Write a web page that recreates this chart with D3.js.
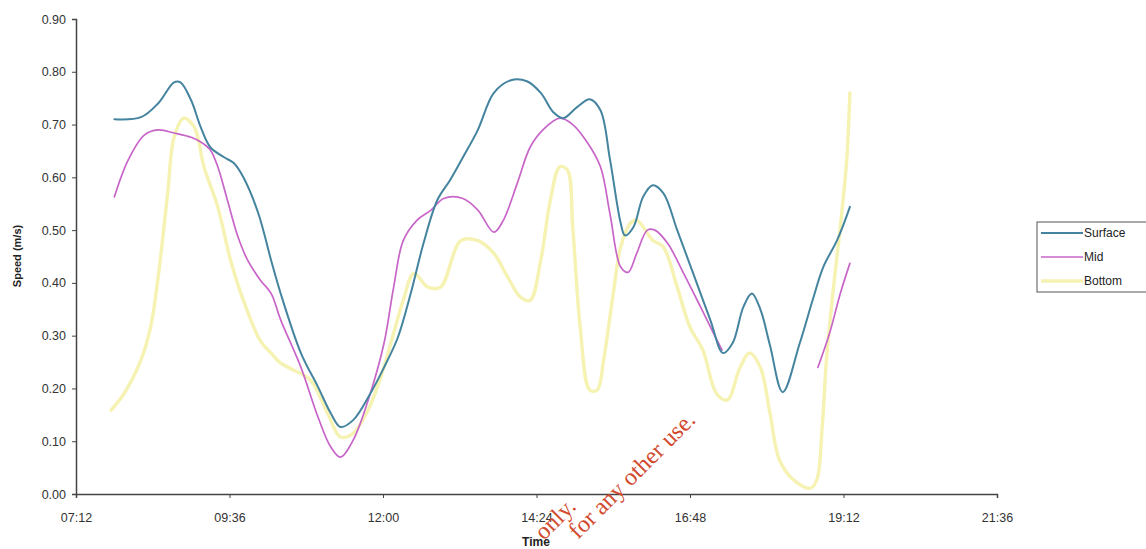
<!DOCTYPE html>
<html>
<head>
<meta charset="utf-8">
<script src="https://cdn.jsdelivr.net/npm/d3@7"></script>
<style>
  html, body { margin: 0; padding: 0; background: #ffffff; }
  svg { display: block; }
</style>
</head>
<body>
<svg id="chart" width="1146" height="549"></svg>
<script>
// ---------- DATA ----------
const seriesNames = ["Surface", "Mid", "Bottom"];
const xTickLabels = ["07:12", "09:36", "12:00", "14:24", "16:48", "19:12", "21:36"];
const yTickValues = [0.0, 0.1, 0.2, 0.3, 0.4, 0.5, 0.6, 0.7, 0.8, 0.9];

const surfaceTimes = ["07:48","08:13","08:29","08:44","08:50","09:00","09:09","09:18","09:31","09:40","09:49","10:03","10:15","10:24","10:43","10:59","11:11","11:20","11:32","11:48","12:01","12:14","12:26","12:38","12:51","13:03","13:15","13:29","13:44","14:00","14:15","14:28","14:40","14:49","15:02","15:14","15:24","15:33","15:43","15:47","15:55","16:04","16:13","16:23","16:36","16:51","17:07","17:19","17:28","17:38","17:46","17:54","18:03","18:15","18:31","18:43","18:53","19:06","19:18"];
const surfaceValues = [0.71,0.714,0.74,0.78,0.78,0.746,0.695,0.657,0.638,0.627,0.60,0.532,0.443,0.38,0.267,0.203,0.153,0.127,0.14,0.19,0.24,0.297,0.38,0.475,0.557,0.595,0.638,0.69,0.76,0.784,0.782,0.76,0.723,0.712,0.733,0.748,0.727,0.633,0.513,0.49,0.506,0.563,0.585,0.57,0.50,0.418,0.33,0.267,0.286,0.354,0.38,0.35,0.282,0.193,0.286,0.367,0.43,0.481,0.544];

const midTimes = ["07:48","08:01","08:16","08:29","08:44","09:00","09:09","09:18","09:25","09:34","09:44","09:53","10:05","10:15","10:24","10:43","10:59","11:11","11:20","11:32","11:48","12:01","12:10","12:19","12:32","12:45","12:57","13:15","13:29","13:44","13:53","14:06","14:18","14:30","14:46","14:58","15:12","15:24","15:33","15:43","15:50","15:58","16:08","16:15","16:27","16:42","16:58","17:10","17:18","18:00","18:48","18:59","19:09","19:18"];
const midValues = [0.563,0.633,0.68,0.69,0.684,0.676,0.667,0.652,0.62,0.557,0.487,0.443,0.405,0.38,0.33,0.24,0.146,0.089,0.07,0.102,0.19,0.286,0.392,0.48,0.519,0.538,0.56,0.56,0.538,0.496,0.519,0.589,0.657,0.69,0.712,0.70,0.665,0.62,0.53,0.43,0.42,0.456,0.50,0.50,0.475,0.418,0.354,0.305,0.273,null,0.24,0.305,0.38,0.437];

const bottomTimes = ["07:45","07:57","08:13","08:22","08:29","08:38","08:44","08:53","09:03","09:12","09:25","09:37","09:49","10:05","10:15","10:24","10:36","10:52","11:08","11:20","11:32","11:46","11:58","12:10","12:19","12:29","12:42","12:54","13:13","13:29","13:44","13:57","14:09","14:18","14:28","14:37","14:46","14:53","14:58","15:05","15:14","15:21","15:27","15:36","15:43","15:52","15:58","16:13","16:23","16:36","16:48","17:00","17:13","17:23","17:35","17:44","17:54","18:03","18:12","18:25","18:41","18:47","18:52","18:56","19:02","19:09","19:15","19:18"];
const bottomValues = [0.159,0.19,0.254,0.316,0.41,0.57,0.676,0.712,0.695,0.62,0.544,0.443,0.367,0.29,0.267,0.248,0.235,0.216,0.153,0.108,0.115,0.159,0.222,0.305,0.367,0.418,0.392,0.392,0.48,0.48,0.456,0.411,0.373,0.367,0.443,0.557,0.62,0.614,0.506,0.316,0.197,0.197,0.254,0.38,0.468,0.513,0.519,0.481,0.468,0.392,0.316,0.273,0.19,0.178,0.24,0.267,0.24,0.153,0.064,0.027,0.011,0.027,0.127,0.254,0.38,0.506,0.633,0.76];

// ---------- HELPERS ----------
const toMin = s => { const [h, m] = s.split(":").map(Number); return h * 60 + m; };
const fmtTime = m => { const h = Math.floor(m / 60), mm = m % 60; return String(h).padStart(2, "0") + ":" + String(mm).padStart(2, "0"); };
const build = (times, vals) => times.map((t, i) => ({ t: toMin(t), v: vals[i] }));

const series = [
  { name: "Surface", data: build(surfaceTimes, surfaceValues), color: "#44849f", width: 2.0 },
  { name: "Mid",     data: build(midTimes, midValues),         color: "#c865c8", width: 1.7 },
  { name: "Bottom",  data: build(bottomTimes, bottomValues),   color: "#f5f2b2", width: 3.4 }
];

const SANS = "'Liberation Sans', Arial, sans-serif";
const SERIF = "'Liberation Serif', 'DejaVu Serif', serif";

// ---------- LAYOUT ----------
const svg = d3.select("#chart");
const xTickMins = xTickLabels.map(toMin);
const x = d3.scaleLinear().domain([xTickMins[0], xTickMins[xTickMins.length - 1]]).range([76, 997]);
const y = d3.scaleLinear().domain([0, 0.9]).range([494, 19]);

const axisColor = "#444";

const line = d3.line()
  .defined(d => d.v !== null)
  .x(d => x(d.t))
  .y(d => y(d.v))
  .curve(d3.curveCatmullRom.alpha(0.5));

const drawOrder = [series[2], series[1], series[0]];
svg.append("g").selectAll("path")
  .data(drawOrder)
  .join("path")
  .attr("fill", "none")
  .attr("stroke", d => d.color)
  .attr("stroke-width", d => d.width)
  .attr("stroke-linejoin", "round")
  .attr("stroke-linecap", "round")
  .attr("d", d => line(d.data));

// axes
const yAxis = d3.axisLeft(y).tickValues(yTickValues).tickFormat(d3.format(".2f")).tickSize(4).tickPadding(6);
const gy = svg.append("g").attr("transform", "translate(76,0)").call(yAxis);
const xAxis = d3.axisBottom(x).tickValues(xTickMins).tickFormat(fmtTime).tickSize(4).tickPadding(15);
const gx = svg.append("g").attr("transform", "translate(0,494)").call(xAxis);

[gx, gy].forEach(g => {
  g.select(".domain").attr("stroke", axisColor).attr("stroke-width", 1.5);
  g.selectAll(".tick line").attr("stroke", axisColor);
  g.selectAll(".tick text").attr("fill", "#333").style("font-size", "12.5px").style("font-family", SANS);
});

// axis titles
svg.append("text")
  .attr("transform", "translate(21,256) rotate(-90)")
  .attr("text-anchor", "middle")
  .style("font-family", SANS).style("font-size", "11px").style("font-weight", "bold")
  .attr("fill", "#222")
  .text("Speed (m/s)");

// scanned-document watermark (drawn under the axis title)
const wm = svg.append("g").attr("fill", "#d24a2e");
wm.append("text").attr("transform", "translate(544,541) rotate(-45)")
  .style("font-family", SERIF).style("font-size", "24px").text("only.");
wm.append("text").attr("transform", "translate(578,540) rotate(-45)")
  .style("font-family", SERIF).style("font-size", "24px").text("for any other use.");

svg.append("text")
  .attr("x", 536).attr("y", 546)
  .attr("text-anchor", "middle")
  .style("font-family", SANS).style("font-size", "12px").style("font-weight", "bold")
  .attr("fill", "#222")
  .text("Time");

// legend
const lg = svg.append("g").attr("transform", "translate(1037,222)");
lg.append("rect").attr("x", 0).attr("y", 0).attr("width", 120).attr("height", 70)
  .attr("fill", "#fff").attr("stroke", "#555").attr("stroke-width", 1);
series.forEach((s, i) => {
  const yy = 11 + i * 24;
  lg.append("line").attr("x1", 4).attr("x2", 46).attr("y1", yy).attr("y2", yy)
    .attr("stroke", s.color).attr("stroke-width", s.width);
  lg.append("text").attr("x", 47).attr("y", yy + 4)
    .style("font-family", SANS).style("font-size", "12px")
    .attr("fill", "#222").text(s.name);
});
</script>
</body>
</html>
